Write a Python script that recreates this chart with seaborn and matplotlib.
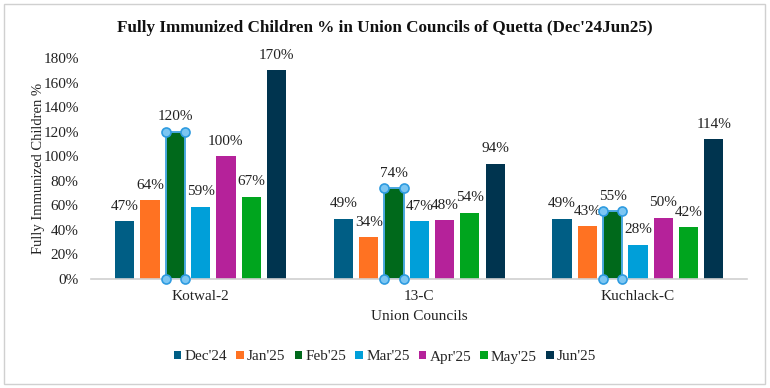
import matplotlib
matplotlib.use("Agg")
import matplotlib.pyplot as plt
import seaborn as sns
import pandas as pd
from matplotlib.patches import Rectangle
from matplotlib.ticker import PercentFormatter

councils = ["Kotwal-2", "13-C", "Kuchlack-C"]
months = ["Dec'24", "Jan'25", "Feb'25", "Mar'25", "Apr'25", "May'25", "Jun'25"]
dec24 = [47, 49, 49]
jan25 = [64, 34, 43]
feb25 = [120, 74, 55]
mar25 = [59, 47, 28]
apr25 = [100, 48, 50]
may25 = [67, 54, 42]
jun25 = [170, 94, 114]
series = [dec24, jan25, feb25, mar25, apr25, may25, jun25]
colors = ["#005E85", "#FF7222", "#00691B", "#009FD9", "#B5229A", "#00A51E", "#00344F"]

rows = []
for m, vals in zip(months, series):
    for c, v in zip(councils, vals):
        rows.append({"Council": c, "Month": m, "Value": v})
df = pd.DataFrame(rows)

sns.set_style("white")
plt.rcParams["font.family"] = ["Liberation Serif", "DejaVu Serif"]

fig = plt.figure(figsize=(7.7, 3.88), dpi=100)
ax = fig.add_axes([0.1185, 0.281, 0.852, 0.5695])
sns.barplot(data=df, x="Council", y="Value", hue="Month", hue_order=months,
            order=councils, palette=colors, width=0.81, gap=0.24,
            saturation=1, ax=ax, legend=True, edgecolor="none")

for i, cont in enumerate(ax.containers):
    ax.bar_label(cont, labels=[f"{int(v)}%" for v in cont.datavalues],
                 padding=6, fontsize=11, color="#222222")
    if months[i] == "Feb'25":
        for p in cont.patches:
            p.set_edgecolor("#4AA8E0")
            p.set_linewidth(1.4)
            x0, x1 = p.get_x(), p.get_x() + p.get_width()
            h = p.get_height()
            ax.plot([x0, x1, x0, x1], [0, 0, h, h], linestyle="none", marker="o",
                    markersize=6.5, markerfacecolor="#7CC6F2", markeredgecolor="#2E9BE0",
                    markeredgewidth=1.2, clip_on=False, zorder=5)

ax.set_xlim(-0.5, len(councils) - 0.5)
ax.set_ylim(0, 180)
ax.set_yticks(range(0, 181, 20))
ax.yaxis.set_major_formatter(PercentFormatter(decimals=0))
ax.tick_params(axis="both", length=0, labelsize=11, colors="#222222")
ax.tick_params(axis="y", pad=9)
ax.tick_params(axis="x", pad=8)
for s in ["top", "right", "left"]:
    ax.spines[s].set_visible(False)
ax.spines["bottom"].set_color("#d0d0d0")
ax.spines["bottom"].set_linewidth(1.2)

ax.set_xlabel("Union Councils", fontsize=11, color="#222222", labelpad=5)
ax.set_ylabel("Fully Immunized Children %", fontsize=10.5, color="#222222", labelpad=-1)

handles, labels = ax.get_legend_handles_labels()
ax.legend(handles, labels, loc="center", bbox_to_anchor=(0.5, 31 / 388),
          bbox_transform=fig.transFigure,
          ncol=7, frameon=False, fontsize=11, handlelength=0.5, handleheight=0.5,
          handletextpad=0.2, columnspacing=0.6)

fig.text(0.5, 1 - 28 / 388, "Fully Immunized Children % in Union Councils of Quetta (Dec'24Jun25)",
         ha="center", va="center", fontsize=12.3, fontweight="bold", color="#111111")

fig.patches.append(Rectangle((4 / 770, 4 / 388), 761 / 770, 380 / 388, transform=fig.transFigure,
                             fill=False, edgecolor="#d0d0d0", linewidth=1))

fig.savefig("out.png", dpi=100)
